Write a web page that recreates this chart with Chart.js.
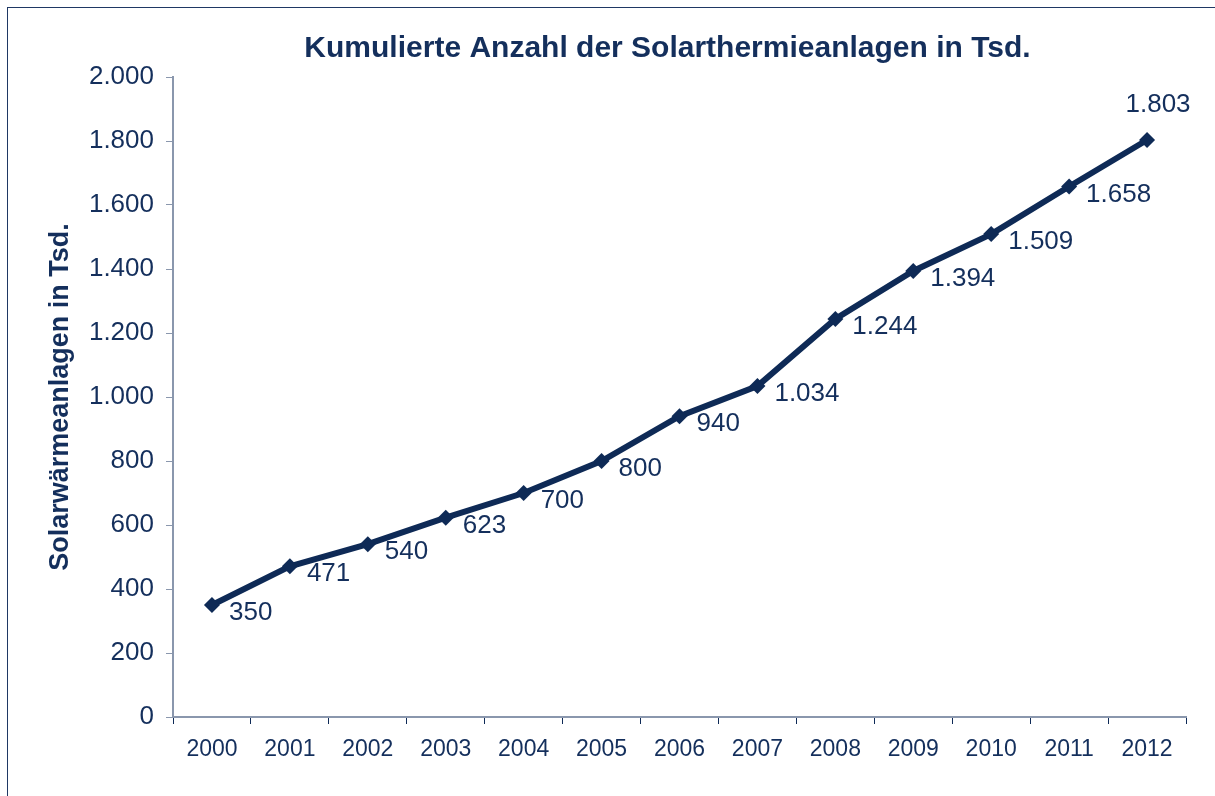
<!DOCTYPE html>
<html>
<head>
<meta charset="utf-8">
<script src="https://cdn.jsdelivr.net/npm/chart.js@4/dist/chart.umd.min.js"></script>
<style>
	html, body { margin: 0; padding: 0; background: #fff; overflow: hidden; }
	#wrap { position: relative; width: 1215px; height: 796px; overflow: hidden; }
	#frame { position: absolute; left: 7px; top: 7px; width: 1300px; height: 900px; border-left: 1px solid #1f3864; border-top: 1px solid #1f3864; pointer-events: none; }
</style>
</head>
<body>
<div id="wrap">
	<canvas id="solarChart" width="1215" height="796"></canvas>
	<div id="frame"></div>
</div>
<script>
// Jahre und kumulierte Anlagen (Tsd.)
const years = ['2000', '2001', '2002', '2003', '2004', '2005', '2006', '2007', '2008', '2009', '2010', '2011', '2012'];
const anlagen = [350, 471, 540, 623, 700, 800, 940, 1034, 1244, 1394, 1509, 1658, 1803];

const chartTitle = 'Kumulierte Anzahl der Solarthermieanlagen in Tsd.';
const yTitle = 'Solarwärmeanlagen in Tsd.';

const navy = '#0e2a56';
const textColor = '#142f5c';
const axisColor = '#8a97ad';
const font = 'Liberation Sans, Arial, sans-serif';

// Tausenderpunkt wie im Original
function fmt(v) {
	return String(v).replace(/\B(?=(\d{3})+(?!\d))/g, '.');
}

// Titel über dem Plotbereich + Datenbeschriftungen
const labelPlugin = {
	id: 'labelPlugin',
	afterDatasetsDraw(chart) {
		const ctx = chart.ctx;
		const area = chart.chartArea;
		ctx.save();
		ctx.fillStyle = textColor;
		ctx.font = 'bold 30px ' + font;
		ctx.textAlign = 'center';
		ctx.textBaseline = 'middle';
		ctx.fillText(chartTitle, (area.left + area.right) / 2 - 12, 49);

		ctx.font = '26px ' + font;
		const meta = chart.getDatasetMeta(0);
		meta.data.forEach((pt, i) => {
			const txt = fmt(anlagen[i]);
			if (i === anlagen.length - 1) {
				ctx.textAlign = 'center';
				ctx.fillText(txt, pt.x + 11, pt.y - 35);
			} else {
				ctx.textAlign = 'left';
				ctx.fillText(txt, pt.x + 17, pt.y + 8);
			}
		});
		ctx.restore();
	}
};

new Chart(document.getElementById('solarChart'), {
	type: 'line',
	data: {
		labels: years,
		datasets: [{
			data: anlagen,
			borderColor: navy,
			backgroundColor: navy,
			borderWidth: 6,
			tension: 0,
			pointStyle: 'rectRot',
			pointRadius: 8,
			pointBorderWidth: 0,
			pointBackgroundColor: navy
		}]
	},
	options: {
		responsive: false,
		animation: false,
		layout: { padding: { left: 0, right: 29, top: 77, bottom: 0 } },
		plugins: {
			legend: { display: false },
			tooltip: { enabled: false },
			title: { display: false }
		},
		scales: {
			x: {
				offset: true,
				grid: {
					offset: true,
					drawOnChartArea: false,
					tickLength: 7,
					tickColor: navy,
					tickWidth: 1
				},
				border: { color: axisColor, width: 2 },
				ticks: {
					color: textColor,
					font: { family: font, size: 23 },
					padding: 12,
					maxRotation: 0
				},
				afterFit(scale) { scale.height = 79; }
			},
			y: {
				min: 0,
				max: 2000,
				grid: {
					drawOnChartArea: false,
					tickLength: 7,
					tickColor: axisColor,
					tickWidth: 1
				},
				border: { color: axisColor, width: 2 },
				ticks: {
					stepSize: 200,
					color: textColor,
					font: { family: font, size: 26 },
					padding: 12,
					callback: (v) => fmt(v)
				},
				title: {
					display: true,
					text: yTitle,
					color: textColor,
					font: { family: font, size: 27, weight: 'bold' },
					padding: { top: 44, bottom: 0 }
				},
				afterFit(scale) { scale.width = 173; }
			}
		}
	},
	plugins: [labelPlugin]
});
</script>
</body>
</html>
